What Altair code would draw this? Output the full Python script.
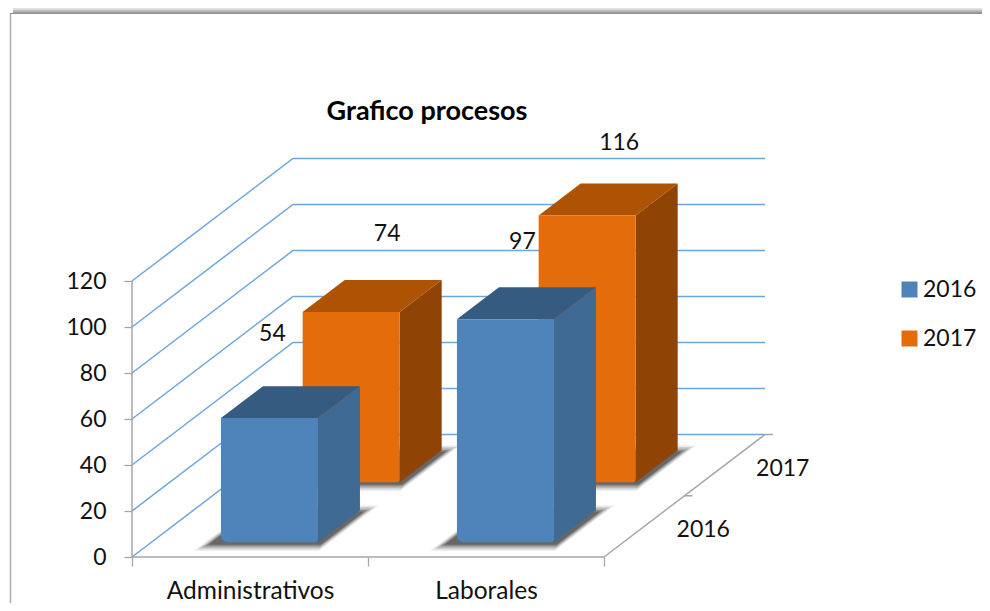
import altair as alt
import pandas as pd

# ---- values ----
title = "Grafico procesos"
categories = ["Administrativos", "Laborales"]
series = ["2016", "2017"]
values_2016 = [54, 97]
values_2017 = [74, 116]
value_ticks = [0, 20, 40, 60, 80, 100, 120]

# ---- styling / layout ----
FONT = "Lato"
W, H = 974, 595
PX_PER_VALUE = 2.3
PX_PER_CAT = 236.0
ORIGIN_X, ORIGIN_Y = 132.0, 557.0
DEPTH_U = 161 / PX_PER_CAT      # category units moved per full depth
DEPTH_V = 122.5 / PX_PER_VALUE  # value units moved per full depth
BAR_U = 97 / PX_PER_CAT
BAR_D = 0.261
front = {"2016": "#4F84BA", "2017": "#E46C0A"}
side = {"2016": "#3E6A94", "2017": "#8F4405"}
top = {"2016": "#355C80", "2017": "#AE5204"}
depth_of = {"2016": 0.12, "2017": 0.61}
start_of = {"2016": 0.295, "2017": 0.307}
GRID = "#6BA6DC"
AXIS = "#A6A6A6"
label_nudge = {  # px offset of the data label from the bar's back-top centre
    ("2016", 0): (-39, -52), ("2017", 0): (-6, -46),
    ("2016", 1): (-25, -45), ("2017", 1): (-10, -41),
}

x_scale = alt.Scale(domain=[(8 - ORIGIN_X) / PX_PER_CAT, (8 + W - ORIGIN_X) / PX_PER_CAT], nice=False, zero=False)
y_scale = alt.Scale(domain=[(ORIGIN_Y - (8 + H)) / PX_PER_VALUE, (ORIGIN_Y - 8) / PX_PER_VALUE], nice=False, zero=False)

x_axis = alt.Axis(
    values=[0, 0.5, 1, 1.5, 2], offset=ORIGIN_Y - 8 - H, domain=False, grid=False, title=None,
    tickColor=AXIS, tickWidth=1.3, tickSize=9,
    tickOpacity={"condition": {"test": "datum.value % 1 === 0", "value": 1}, "value": 0},
    labelExpr=f"datum.value === 0.5 ? '{categories[0]}' : datum.value === 1.5 ? '{categories[1]}' : ''",
    labelFont=FONT, labelFontSize=24.5, labelColor="#111111", labelPadding=13, labelOverlap=False,
    labelFlush=False,
)
y_axis = alt.Axis(
    values=value_ticks, offset=-124, domain=False, grid=False, title=None,
    tickColor=AXIS, tickWidth=1.3, tickSize=8,
    labelFont=FONT, labelFontSize=23, labelColor="#111111", labelPadding=18, labelOverlap=False,
)


def U(u, d=0.0):
    return u + DEPTH_U * d


def V(v, d=0.0):
    return v + DEPTH_V * d


X = alt.X("x:Q", scale=x_scale, axis=x_axis)
Y = alt.Y("y:Q", scale=y_scale, axis=y_axis)
XS = alt.X("x:Q", scale=x_scale, axis=x_axis, stack=None)
YS = alt.Y("y:Q", scale=y_scale, axis=y_axis, stack=None)

# ---- walls -------------------------------------------------------
grid_rows = []
for v in value_ticks:
    grid_rows += [
        {"t": v, "o": 0, "x": U(0, 0), "y": V(v, 0)},
        {"t": v, "o": 1, "x": U(0, 1), "y": V(v, 1)},
        {"t": v, "o": 2, "x": U(2, 1), "y": V(v, 1)},
    ]
grid = alt.Chart(pd.DataFrame(grid_rows)).mark_line(color=GRID, strokeWidth=1.5).encode(
    x=X, y=Y, detail="t:N", order="o:Q"
)

floor_edge = pd.DataFrame([
    {"g": "right", "o": 0, "x": U(2, 0), "y": V(0, 0)},
    {"g": "right", "o": 1, "x": U(2, 1), "y": V(0, 1)},
    {"g": "front", "o": 0, "x": U(0, 0), "y": V(0, 0)},
    {"g": "front", "o": 1, "x": U(2, 0), "y": V(0, 0)},
    {"g": "axis", "o": 0, "x": 0, "y": 0},
    {"g": "axis", "o": 1, "x": 0, "y": value_ticks[-1]},
    {"g": "t1", "o": 0, "x": U(2, 0.5), "y": V(0, 0.5)},
    {"g": "t1", "o": 1, "x": U(2, 0.5) + 8 / PX_PER_CAT, "y": V(0, 0.5)},
    {"g": "t2", "o": 0, "x": U(2, 1), "y": V(0, 1)},
    {"g": "t2", "o": 1, "x": U(2, 1) + 8 / PX_PER_CAT, "y": V(0, 1)},
])
edges = alt.Chart(floor_edge).mark_line(color=AXIS, strokeWidth=1.5).encode(
    x=X, y=Y, detail="g:N", order="o:Q"
)

# ---- bars --------------------------------------------------------
data_rows = []
for s, vals in zip(series, [values_2016, values_2017]):
    for i, (c, v) in enumerate(zip(categories, vals)):
        data_rows.append({"series": s, "cat": c, "i": i, "value": v})


def bar_layers(s):
    rows = [r for r in data_rows if r["series"] == s]
    d0, d1 = depth_of[s], depth_of[s] + BAR_D
    front_rows, side_rows, top_rows = [], [], []
    for r in rows:
        u0 = r["i"] + start_of[s]
        u1 = u0 + BAR_U
        v = r["value"]
        front_rows.append({"series": s, "x": U(u0, d0), "x2": U(u1, d0), "y": V(v, d0), "y2": V(0, d0)})
        side_rows += [
            {"b": r["i"], "x": U(u1, d0), "y": V(0, d0), "y2": V(v, d0)},
            {"b": r["i"], "x": U(u1, d1), "y": V(0, d1), "y2": V(v, d1)},
        ]
        top_rows += [
            {"b": r["i"], "y": V(v, d0), "x": U(u0, d0), "x2": U(u1, d0)},
            {"b": r["i"], "y": V(v, d1), "x": U(u0, d1), "x2": U(u1, d1)},
        ]
    side_l = alt.Chart(pd.DataFrame(side_rows)).mark_area(orient="vertical", color=side[s]).encode(
        x=X, y=YS, y2="y2:Q", detail="b:N")
    top_l = alt.Chart(pd.DataFrame(top_rows)).mark_area(orient="horizontal", color=top[s]).encode(
        y=Y, x=XS, x2="x2:Q", detail="b:N")
    front_l = alt.Chart(pd.DataFrame(front_rows)).mark_rect(
        cornerRadiusBottomLeft=7, cornerRadiusBottomRight=3
    ).encode(
        x=X, x2="x2:Q", y=Y, y2="y2:Q",
        color=alt.Color("series:N", scale=alt.Scale(domain=series, range=[front[k] for k in series]),
                        legend=alt.Legend(
                            title=None, orient="none", legendX=890, legendY=270, direction="vertical",
                            symbolType="square", symbolSize=256, symbolStrokeWidth=0, symbolOpacity=1,
                            labelFont=FONT, labelFontSize=23, labelColor="#111111", labelOffset=2,
                            rowPadding=25, values=series)),
    )
    return [side_l, top_l, front_l]


def shadow_layers():
    layers = []
    for grow, op in [(6, 0.10), (4.5, 0.14), (3, 0.2), (1.5, 0.28), (0, 0.4)]:
        rows = []
        gu = grow / PX_PER_CAT
        gd = grow / 122.5
        for k, r in enumerate(data_rows):
            s = r["series"]
            u0 = r["i"] + start_of[s] - 0.04 - gu
            u1 = r["i"] + start_of[s] + BAR_U + 0.025 + gu
            d0, d1 = depth_of[s] - 0.02 - gd, depth_of[s] + BAR_D - 0.01 + gd
            rows += [
                {"b": k, "y": V(0, d0), "x": U(u0, d0), "x2": U(u1, d0)},
                {"b": k, "y": V(0, d1), "x": U(u0, d1), "x2": U(u1, d1)},
            ]
        layers.append(alt.Chart(pd.DataFrame(rows)).mark_area(
            orient="horizontal", color="#303030", opacity=op
        ).encode(y=Y, x=XS, x2="x2:Q", detail="b:N"))
    return layers


# ---- texts -------------------------------------------------------
label_rows = []
for r in data_rows:
    s, i, v = r["series"], r["i"], r["value"]
    d1 = depth_of[s] + BAR_D
    nx, ny = label_nudge[(s, i)]
    label_rows.append({
        "x": U(i + start_of[s] + BAR_U / 2, d1) + nx / PX_PER_CAT,
        "y": V(v, d1) - ny / PX_PER_VALUE,
        "t": str(v),
    })
data_labels = alt.Chart(pd.DataFrame(label_rows)).mark_text(
    font=FONT, fontSize=23, color="#111111", baseline="middle"
).encode(x=X, y=Y, text="t:N")

depth_label_rows = [
    {"x": U(2, 0.25) + 59 / PX_PER_CAT, "y": V(0, 0.25) - 4 / PX_PER_VALUE, "t": series[0]},
    {"x": U(2, 0.75) + 58 / PX_PER_CAT, "y": V(0, 0.75) - 4 / PX_PER_VALUE, "t": series[1]},
]
depth_labels = alt.Chart(pd.DataFrame(depth_label_rows)).mark_text(
    font=FONT, fontSize=23, color="#111111", baseline="middle"
).encode(x=X, y=Y, text="t:N")

title_mark = alt.Chart(pd.DataFrame({"t": [title]})).mark_text(
    font=FONT, fontSize=27, fontWeight="bold", color="#000000", baseline="middle"
).encode(x=alt.value(427 - 8), y=alt.value(112 - 8), text="t:N")

# ---- frame -------------------------------------------------------
frame_layers = [
    alt.Chart(pd.DataFrame({"a": [0]})).mark_rule(color="#ABABAB", strokeWidth=1.5).encode(
        x=alt.value(2.5), y=alt.value(5), y2=alt.value(H))
]
for offset, col in enumerate(["#E4E4E4", "#D4D4D4", "#C2C2C2", "#B0B0B0", "#9E9E9E", "#8F8F8F"]):
    frame_layers.append(
        alt.Chart(pd.DataFrame({"a": [0]})).mark_rule(color=col, strokeWidth=1).encode(
            x=alt.value(5 if offset < 5 else 2), x2=alt.value(W), y=alt.value(offset + 0.5))
    )

layers = [*frame_layers, grid, edges, *shadow_layers(),
          *bar_layers("2017"), *bar_layers("2016"),
          data_labels, depth_labels, title_mark]

chart = alt.layer(*layers).properties(
    width=W, height=H, padding=0, autosize=alt.AutoSizeParams(type="none"), background="white"
).configure_view(stroke=None)

chart.save("out.html", embed_options={"renderer": "svg", "actions": False})
